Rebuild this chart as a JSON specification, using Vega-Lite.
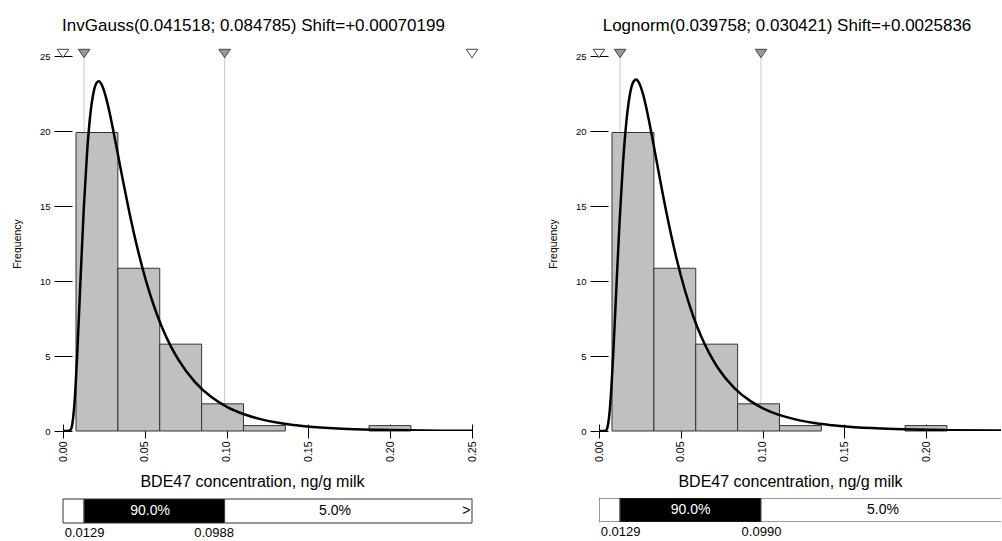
{
  "$schema": "https://vega.github.io/schema/vega-lite/v6.json",
  "background": "white",
  "padding": {"left": 12, "top": 17, "right": 0, "bottom": 0},
  "config": {
    "view": {"stroke": null},
    "font": "Liberation Sans",
    "axis": {"grid": false, "labelFont": "Liberation Sans", "titleFont": "Liberation Sans", "labelColor": "#000", "titleColor": "#000", "tickColor": "#000", "titleFontWeight": "normal"},
    "title": {"font": "Liberation Sans", "fontSize": 17, "fontWeight": "normal", "color": "#000"}
  },
  "datasets": {
    "hist": [
      {"x0": 0.00795, "x1": 0.03354, "density": 19.90},
      {"x0": 0.03354, "x1": 0.05913, "density": 10.85},
      {"x0": 0.05913, "x1": 0.08472, "density": 5.79},
      {"x0": 0.08472, "x1": 0.11031, "density": 1.81},
      {"x0": 0.11031, "x1": 0.1359, "density": 0.36},
      {"x0": 0.18708, "x1": 0.21267, "density": 0.36}
    ],
    "curve_ig": [
      {"x": 0, "d": 0}, {"x": 0.0007, "d": 0}, {"x": 0.0027, "d": 0.0}, {"x": 0.0047, "d": 0.08},
      {"x": 0.0057, "d": 0.466}, {"x": 0.0067, "d": 1.42}, {"x": 0.0077, "d": 3.02}, {"x": 0.0087, "d": 5.14},
      {"x": 0.0097, "d": 7.57}, {"x": 0.0107, "d": 10.09}, {"x": 0.0127, "d": 14.82}, {"x": 0.0147, "d": 18.54},
      {"x": 0.0167, "d": 21.10}, {"x": 0.0187, "d": 22.59}, {"x": 0.0207, "d": 23.24}, {"x": 0.0217, "d": 23.31},
      {"x": 0.0227, "d": 23.25}, {"x": 0.0247, "d": 22.81}, {"x": 0.0267, "d": 22.06}, {"x": 0.0287, "d": 21.12},
      {"x": 0.0307, "d": 20.05}, {"x": 0.0337, "d": 18.36}, {"x": 0.0367, "d": 16.66}, {"x": 0.0407, "d": 14.50},
      {"x": 0.0457, "d": 12.09}, {"x": 0.0507, "d": 10.03}, {"x": 0.0557, "d": 8.30}, {"x": 0.0607, "d": 6.87},
      {"x": 0.0657, "d": 5.69}, {"x": 0.0707, "d": 4.72}, {"x": 0.0807, "d": 3.26}, {"x": 0.0907, "d": 2.26},
      {"x": 0.1007, "d": 1.58}, {"x": 0.1107, "d": 1.12}, {"x": 0.1207, "d": 0.79}, {"x": 0.1307, "d": 0.56},
      {"x": 0.1407, "d": 0.40}, {"x": 0.1507, "d": 0.29}, {"x": 0.1707, "d": 0.15}, {"x": 0.1907, "d": 0.081},
      {"x": 0.2107, "d": 0.043}, {"x": 0.2307, "d": 0.024}, {"x": 0.25, "d": 0.013}
    ],
    "curve_ln": [
      {"x": 0, "d": 0}, {"x": 0.0026, "d": 0}, {"x": 0.0036, "d": 0.0014}, {"x": 0.0046, "d": 0.076},
      {"x": 0.0056, "d": 0.481}, {"x": 0.0066, "d": 1.43}, {"x": 0.0076, "d": 2.95}, {"x": 0.0086, "d": 4.92},
      {"x": 0.0096, "d": 7.16}, {"x": 0.0106, "d": 9.50}, {"x": 0.0126, "d": 14.00}, {"x": 0.0146, "d": 17.74},
      {"x": 0.0166, "d": 20.48}, {"x": 0.0186, "d": 22.25}, {"x": 0.0206, "d": 23.18}, {"x": 0.0226, "d": 23.43},
      {"x": 0.0246, "d": 23.18}, {"x": 0.0266, "d": 22.57}, {"x": 0.0286, "d": 21.70}, {"x": 0.0306, "d": 20.66},
      {"x": 0.0326, "d": 19.53}, {"x": 0.0356, "d": 17.77}, {"x": 0.0386, "d": 16.02}, {"x": 0.0426, "d": 13.83},
      {"x": 0.0476, "d": 11.40}, {"x": 0.0526, "d": 9.35}, {"x": 0.0576, "d": 7.65}, {"x": 0.0626, "d": 6.26},
      {"x": 0.0676, "d": 5.14}, {"x": 0.0726, "d": 4.22}, {"x": 0.0826, "d": 2.88}, {"x": 0.0926, "d": 1.99},
      {"x": 0.1026, "d": 1.39}, {"x": 0.1126, "d": 0.99}, {"x": 0.1226, "d": 0.71}, {"x": 0.1326, "d": 0.51},
      {"x": 0.1426, "d": 0.38}, {"x": 0.1526, "d": 0.28}, {"x": 0.1726, "d": 0.16}, {"x": 0.1926, "d": 0.094},
      {"x": 0.2126, "d": 0.057}, {"x": 0.2426, "d": 0.028}, {"x": 0.2457, "d": 0.026}
    ],
    "marks_ig": [
      {"x": 0, "kind": "open"}, {"x": 0.0129, "kind": "filled"}, {"x": 0.0988, "kind": "filled"}, {"x": 0.25, "kind": "open"}
    ],
    "marks_ln": [
      {"x": 0, "kind": "open"}, {"x": 0.0129, "kind": "filled"}, {"x": 0.0990, "kind": "filled"}
    ],
    "band_ig": [
      {"x0": 0, "x1": 0.0129, "seg": "lo"}, {"x0": 0.0129, "x1": 0.0988, "seg": "mid"}, {"x0": 0.0988, "x1": 0.25, "seg": "hi"}
    ],
    "band_ln": [
      {"x0": 0, "x1": 0.0129, "seg": "lo"}, {"x0": 0.0129, "x1": 0.0990, "seg": "mid"}, {"x0": 0.0990, "x1": 0.26, "seg": "hi"}
    ],
    "bandtext_ig": [
      {"lx": 0.0532, "label": "90.0%", "seg": "mid"}, {"lx": 0.1663, "label": "5.0%", "seg": "hi"}, {"lx": 0.2465, "label": ">", "seg": "hi"}
    ],
    "bandtext_ln": [
      {"lx": 0.0560, "label": "90.0%", "seg": "mid"}, {"lx": 0.1736, "label": "5.0%", "seg": "hi"}
    ]
  },
  "spacing": 68,
  "hconcat": [
    {
      "spacing": 8,
      "vconcat": [
        {
          "width": 409,
          "height": 375,
          "title": {"text": "InvGauss(0.041518; 0.084785) Shift=+0.00070199", "frame": "group", "dx": -14, "offset": 12},
          "layer": [
            {
              "data": {"name": "marks_ig"},
              "transform": [{"filter": "datum.kind == 'filled'"}],
              "mark": {"type": "rule", "color": "#c8c8c8", "strokeWidth": 1},
              "encoding": {"x": {"field": "x", "type": "quantitative"}}
            },
            {
              "data": {"name": "hist"},
              "mark": {"type": "rect", "fill": "#c0c0c0", "stroke": "#333", "strokeWidth": 1},
              "encoding": {
                "x": {"field": "x0", "type": "quantitative", "scale": {"domain": [0, 0.25], "nice": false, "zero": false},
                  "axis": {"values": [0, 0.05, 0.1, 0.15, 0.2, 0.25], "format": ".2f", "labelAngle": -90, "offset": -7, "tickSize": 14, "domain": false, "labelPadding": 3, "labelFontSize": 10.5, "title": "BDE47 concentration, ng/g milk", "titleFontSize": 16, "titlePadding": 12, "titleX": 189}},
                "x2": {"field": "x1"},
                "y": {"field": "density", "type": "quantitative", "scale": {"domain": [0, 25], "nice": false},
                  "axis": {"values": [0, 5, 10, 15, 20, 25], "format": "d", "offset": -9, "tickSize": 18, "domain": false, "labelPadding": 4, "labelFontSize": 9.5, "title": "Frequency", "titleFontSize": 10.5, "titlePadding": 17}},
                "y2": {"datum": 0}
              }
            },
            {
              "data": {"name": "curve_ig"},
              "mark": {"type": "line", "color": "#000", "strokeWidth": 2.5, "interpolate": "monotone", "clip": true},
              "encoding": {"x": {"field": "x", "type": "quantitative"}, "y": {"field": "d", "type": "quantitative"}}
            },
            {"mark": {"type": "rule", "color": "#666", "strokeWidth": 1.5}, "encoding": {"y": {"datum": 25}}},
            {"mark": {"type": "rule", "color": "#555", "strokeWidth": 1}, "encoding": {"x": {"datum": 0.25}}},
            {"mark": {"type": "rule", "color": "#000", "strokeWidth": 1}, "encoding": {"x": {"datum": 0}}},
            {"mark": {"type": "rule", "color": "#000", "strokeWidth": 1.5}, "encoding": {"y": {"datum": 0}}},
            {
              "data": {"name": "marks_ig"},
              "mark": {"type": "point", "shape": "M-0.58,-0.67L0.58,-0.67L0,0.17Z", "size": 400, "filled": true, "stroke": "#444", "strokeWidth": 1, "opacity": 1},
              "encoding": {
                "x": {"field": "x", "type": "quantitative"},
                "y": {"datum": 25},
                "fill": {"condition": {"test": "datum.kind == 'filled'", "value": "#999999"}, "value": "#ffffff"}
              }
            }
          ]
        },
        {
          "width": 409,
          "height": 24,
          "layer": [
            {
              "data": {"name": "band_ig"},
              "mark": {"type": "rect", "stroke": "#333", "strokeWidth": 1},
              "encoding": {
                "x": {"field": "x0", "type": "quantitative", "scale": {"domain": [0, 0.25], "nice": false, "zero": false},
                  "axis": {"values": [0.0129, 0.0988], "format": ".4f", "ticks": false, "domain": false, "labelAngle": 0, "labelFontSize": 13, "labelPadding": 3, "title": null,
                    "labelOffset": {"condition": {"test": "datum.value > 0.05", "value": -11}, "value": 0}}},
                "x2": {"field": "x1"},
                "y": {"datum": 0, "type": "quantitative", "scale": {"domain": [0, 1]}, "axis": null},
                "y2": {"datum": 1},
                "fill": {"condition": {"test": "datum.seg == 'mid'", "value": "#000000"}, "value": "#ffffff"}
              }
            },
            {
              "data": {"name": "bandtext_ig"},
              "mark": {"type": "text", "fontSize": 14, "baseline": "middle", "align": "center"},
              "encoding": {
                "x": {"field": "lx", "type": "quantitative"},
                "y": {"datum": 0.5},
                "text": {"field": "label"},
                "color": {"condition": {"test": "datum.seg == 'mid'", "value": "#ffffff"}, "value": "#000000"}
              }
            }
          ]
        }
      ]
    },
    {
      "spacing": 8,
      "vconcat": [
        {
          "width": 402,
          "height": 375,
          "title": {"text": "Lognorm(0.039758; 0.030421) Shift=+0.0025836", "frame": "group", "dx": -13, "offset": 12},
          "layer": [
            {
              "data": {"name": "marks_ln"},
              "transform": [{"filter": "datum.kind == 'filled'"}],
              "mark": {"type": "rule", "color": "#c8c8c8", "strokeWidth": 1},
              "encoding": {"x": {"field": "x", "type": "quantitative"}}
            },
            {
              "data": {"name": "hist"},
              "mark": {"type": "rect", "fill": "#c0c0c0", "stroke": "#333", "strokeWidth": 1},
              "encoding": {
                "x": {"field": "x0", "type": "quantitative", "scale": {"domain": [0, 0.2457], "nice": false, "zero": false},
                  "axis": {"values": [0, 0.05, 0.1, 0.15, 0.2], "format": ".2f", "labelAngle": -90, "offset": -7, "tickSize": 14, "domain": false, "labelPadding": 3, "labelFontSize": 10.5, "title": "BDE47 concentration, ng/g milk", "titleFontSize": 16, "titlePadding": 12, "titleX": 191}},
                "x2": {"field": "x1"},
                "y": {"field": "density", "type": "quantitative", "scale": {"domain": [0, 25], "nice": false},
                  "axis": {"values": [0, 5, 10, 15, 20, 25], "format": "d", "offset": -9, "tickSize": 18, "domain": false, "labelPadding": 4, "labelFontSize": 9.5, "title": "Frequency", "titleFontSize": 10.5, "titlePadding": 17}},
                "y2": {"datum": 0}
              }
            },
            {
              "data": {"name": "curve_ln"},
              "mark": {"type": "line", "color": "#000", "strokeWidth": 2.5, "interpolate": "monotone", "clip": true},
              "encoding": {"x": {"field": "x", "type": "quantitative"}, "y": {"field": "d", "type": "quantitative"}}
            },
            {"mark": {"type": "rule", "color": "#666", "strokeWidth": 1.5}, "encoding": {"y": {"datum": 25}}},
            {"mark": {"type": "rule", "color": "#000", "strokeWidth": 1}, "encoding": {"x": {"datum": 0}}},
            {"mark": {"type": "rule", "color": "#000", "strokeWidth": 1.5}, "encoding": {"y": {"datum": 0}}},
            {
              "data": {"name": "marks_ln"},
              "mark": {"type": "point", "shape": "M-0.58,-0.67L0.58,-0.67L0,0.17Z", "size": 400, "filled": true, "stroke": "#444", "strokeWidth": 1, "opacity": 1},
              "encoding": {
                "x": {"field": "x", "type": "quantitative"},
                "y": {"datum": 25},
                "fill": {"condition": {"test": "datum.kind == 'filled'", "value": "#999999"}, "value": "#ffffff"}
              }
            }
          ]
        },
        {
          "width": 402,
          "height": 24,
          "layer": [
            {
              "data": {"name": "band_ln"},
              "mark": {"type": "rect", "stroke": "#333", "strokeWidth": 1, "clip": true},
              "encoding": {
                "x": {"field": "x0", "type": "quantitative", "scale": {"domain": [0, 0.2457], "nice": false, "zero": false},
                  "axis": {"values": [0.0129, 0.099], "format": ".4f", "ticks": false, "domain": false, "labelAngle": 0, "labelFontSize": 13, "labelPadding": 3, "title": null}},
                "x2": {"field": "x1"},
                "y": {"datum": 0, "type": "quantitative", "scale": {"domain": [0, 1]}, "axis": null},
                "y2": {"datum": 1},
                "fill": {"condition": {"test": "datum.seg == 'mid'", "value": "#000000"}, "value": "#ffffff"}
              }
            },
            {
              "data": {"name": "bandtext_ln"},
              "mark": {"type": "text", "fontSize": 14, "baseline": "middle", "align": "center"},
              "encoding": {
                "x": {"field": "lx", "type": "quantitative"},
                "y": {"datum": 0.5},
                "text": {"field": "label"},
                "color": {"condition": {"test": "datum.seg == 'mid'", "value": "#ffffff"}, "value": "#000000"}
              }
            }
          ]
        }
      ]
    }
  ]
}
